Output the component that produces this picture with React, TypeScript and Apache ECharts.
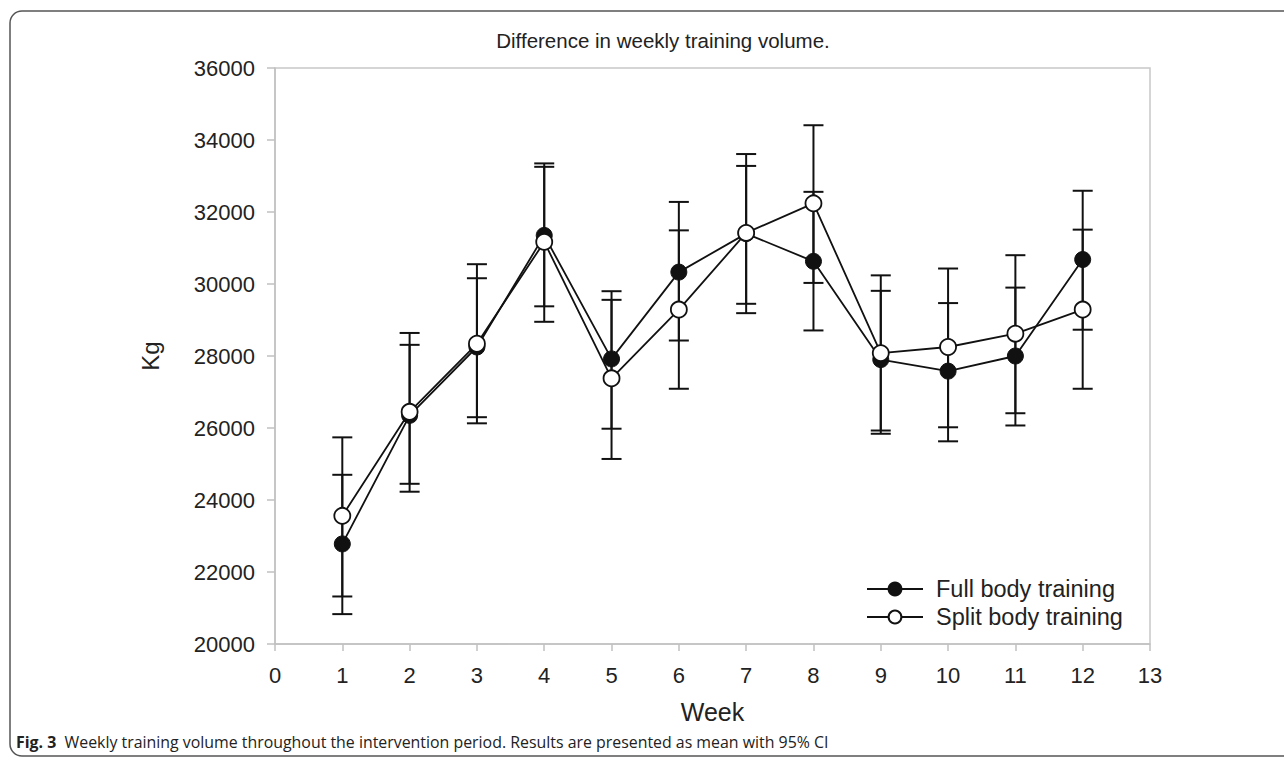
import React, { useEffect, useRef } from "react";
import * as echarts from "echarts";

const weeks = [1, 2, 3, 4, 5, 6, 7, 8, 9, 10, 11, 12];
const fullMean = [22780, 26350, 28250, 31350, 27920, 30330, 31400, 30630, 27900, 27580, 28000, 30680];
const fullUpper = [24700, 28310, 30160, 33255, 29800, 32280, 33280, 32560, 29810, 29470, 29900, 32590];
const fullLower = [20830, 24450, 26300, 29380, 25980, 28430, 29450, 28710, 25930, 25630, 26070, 28730];
const splitMean = [23560, 26450, 28340, 31170, 27380, 29290, 31420, 32240, 28080, 28250, 28620, 29290];
const splitUpper = [25740, 28640, 30550, 33350, 29560, 31490, 33610, 34410, 30240, 30430, 30800, 31510];
const splitLower = [21320, 24230, 26130, 28950, 25140, 27090, 29190, 30030, 25840, 26020, 26410, 27090];

const FONT = "'Liberation Sans', Arial, sans-serif";

function errorSeries(name: string, upper: number[], lower: number[]) {
  return {
    type: "custom",
    name,
    z: 1,
    silent: true,
    data: weeks.map((w, i) => [w, lower[i], upper[i]]),
    encode: { x: 0, y: [1, 2] },
    renderItem: (params: any, api: any) => {
      const x = api.value(0);
      const lo = api.coord([x, api.value(1)]);
      const hi = api.coord([x, api.value(2)]);
      const hw = 10;
      const style = { stroke: "#111", lineWidth: 2 };
      return {
        type: "group",
        children: [
          { type: "line", shape: { x1: lo[0], y1: lo[1], x2: hi[0], y2: hi[1] }, style },
          { type: "line", shape: { x1: hi[0] - hw, y1: hi[1], x2: hi[0] + hw, y2: hi[1] }, style },
          { type: "line", shape: { x1: lo[0] - hw, y1: lo[1], x2: lo[0] + hw, y2: lo[1] }, style },
        ],
      };
    },
  };
}

export default function App() {
  const ref = useRef<HTMLDivElement>(null);
  useEffect(() => {
    if (!ref.current) return;
    const chart = echarts.init(ref.current, null, { renderer: "svg" });
    chart.setOption({
      animation: false,
      backgroundColor: "#ffffff",
      grid: {
        left: 275,
        right: 134,
        top: 68,
        bottom: 117,
        show: true,
        borderColor: "#c8c8c8",
        borderWidth: 1.5,
        containLabel: false,
      },
      legend: {
        orient: "vertical",
        left: 866,
        top: 577,
        padding: 0,
        itemWidth: 56,
        itemHeight: 16,
        itemGap: 4,
        data: ["Full body training", "Split body training"],
        textStyle: { fontFamily: FONT, fontSize: 23.5, color: "#222", padding: [0, 0, 0, 8] },
      },
      xAxis: {
        type: "value",
        min: 0,
        max: 13,
        interval: 1,
        name: "Week",
        nameLocation: "middle",
        nameGap: 55,
        nameTextStyle: { fontFamily: FONT, fontSize: 25, color: "#222" },
        axisLine: { lineStyle: { color: "#c0c0c0", width: 1.5 } },
        axisTick: { show: true, inside: false, length: 7, lineStyle: { color: "#c0c0c0", width: 1.5 } },
        axisLabel: { fontFamily: FONT, fontSize: 22, color: "#222", margin: 20 },
        splitLine: { show: false },
      },
      yAxis: {
        type: "value",
        min: 20000,
        max: 36000,
        interval: 2000,
        name: "Kg",
        nameLocation: "middle",
        nameGap: 113,
        nameRotate: 90,
        nameTextStyle: { fontFamily: FONT, fontSize: 24, color: "#222" },
        axisLine: { show: true, lineStyle: { color: "#c0c0c0", width: 1.5 } },
        axisTick: { show: true, inside: false, length: 8, lineStyle: { color: "#c0c0c0", width: 1.5 } },
        axisLabel: {
          fontFamily: FONT,
          fontSize: 22,
          color: "#222",
          margin: 20,
          formatter: (v: number) => String(v),
        },
        splitLine: { show: false },
      },
      graphic: [
        {
          type: "rect",
          silent: true,
          shape: { x: 10, y: 11, width: 1300, height: 745, r: 12 },
          style: { fill: "none", stroke: "#555", lineWidth: 1.5 },
        },
        {
          type: "text",
          x: 663,
          y: 40,
          style: {
            text: "Difference in weekly training volume.",
            fontFamily: FONT,
            fontSize: 20.5,
            fill: "#222",
            align: "center",
            verticalAlign: "middle",
          },
        },
        {
          type: "text",
          x: 16,
          y: 742,
          style: {
            text: "{b|Fig. 3}  Weekly training volume throughout the intervention period. Results are presented as mean with 95% CI",
            fontFamily: "'Open Sans', sans-serif",
            fontSize: 15.9,
            fill: "#222",
            align: "left",
            verticalAlign: "middle",
            rich: {
              b: { fontFamily: "'Open Sans', sans-serif", fontSize: 15.9, fontWeight: "bold", fill: "#222" },
            },
          },
        },
      ],
      series: [
        errorSeries("fullErr", fullUpper, fullLower),
        errorSeries("splitErr", splitUpper, splitLower),
        {
          type: "line",
          name: "Full body training",
          z: 3,
          data: weeks.map((w, i) => [w, fullMean[i]]),
          symbol: "circle",
          symbolSize: 16,
          lineStyle: { color: "#111", width: 1.8 },
          itemStyle: { color: "#111", borderColor: "#111", borderWidth: 1 },
        },
        {
          type: "line",
          name: "Split body training",
          z: 4,
          data: weeks.map((w, i) => [w, splitMean[i]]),
          symbol: "circle",
          symbolSize: 16,
          lineStyle: { color: "#111", width: 1.8 },
          itemStyle: { color: "#ffffff", borderColor: "#111", borderWidth: 1.8 },
        },
      ],
    });
    return () => chart.dispose();
  }, []);
  return (
    <div
      ref={ref}
      style={{ position: "fixed", left: 0, top: 0, width: 1284, height: 761, background: "#fff" }}
    />
  );
}
